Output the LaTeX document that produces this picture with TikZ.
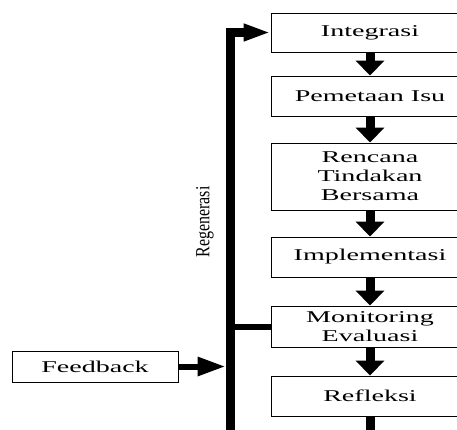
\documentclass[tikz,border=0pt]{standalone}
\usepackage{fontspec}
\setmainfont{Liberation Serif}
\newfontfamily\widefont[FakeStretch=1.7]{Liberation Serif}
\newfontfamily\narrowfont[FakeStretch=0.8]{Liberation Serif}
\usetikzlibrary{arrows.meta}
\tikzset{
stage/.style={draw,line width=0.9pt,minimum width=198pt,inner sep=0pt,align=center,
font=\widefont\fontsize{16.5}{19}\selectfont},
bigarrow/.style={line width=9pt,-{Triangle[length=15pt,width=28pt]}}
}
\begin{document}
\begin{tikzpicture}[x=1pt,y=-1pt]
\useasboundingbox(0,0)rectangle(457,430);
\node[stage,minimum height=39pt](int)at(370,32.5){Integrasi};
\node[stage,minimum height=40pt](pem)at(370,96){Pemetaan Isu};
\node[stage,minimum height=67pt](ren)at(370,176.5){Rencana\\Tindakan\\Bersama};
\node[stage,minimum height=40pt](imp)at(370,257){Implementasi};
\node[stage,minimum height=41pt](mon)at(370,326.5){Monitoring\\Evaluasi};
\node[stage,minimum height=40pt](ref)at(370,396){Refleksi};
\node[stage,minimum width=166pt,minimum height=31pt](fb)at(95,366.5){Feedback};
\node[rotate=90,font=\narrowfont\fontsize{20}{20}\selectfont](regen)at(205,222){Regenerasi};
\coordinate(barend)at(230,440);
\coordinate(down)at(370,446);
\foreach \a/\b in{int/pem,pem/ren,ren/imp,imp/mon,mon/ref,ref/down}
\draw[bigarrow](\a.south)--(\b.north);
\draw[line width=9pt,line join=miter,-{Triangle[length=27pt,width=16pt]}](barend)|-(int.west);
\draw[line width=6pt](mon.west)--(mon.west-|barend);
\draw[line width=6pt,shorten >=4.5pt,-{Triangle[length=28pt,width=18pt]}](fb.east)--(fb.east-|barend);
\end{tikzpicture}
\end{document}
